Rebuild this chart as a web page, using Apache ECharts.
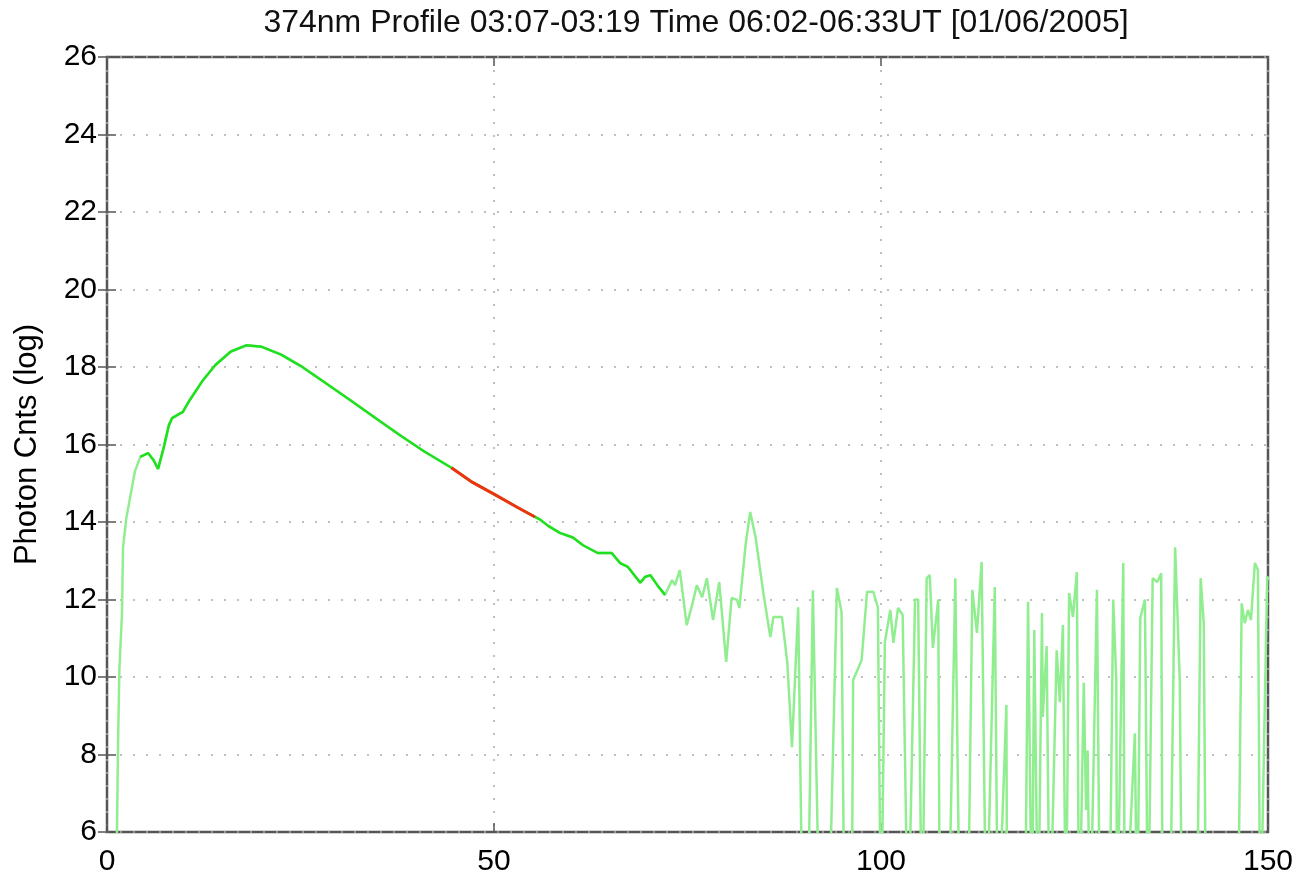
<!DOCTYPE html>
<html>
<head>
<meta charset="utf-8">
<title>374nm Profile</title>
<script src="https://cdn.jsdelivr.net/npm/echarts@6/dist/echarts.min.js"></script>
<style>
  html, body { margin: 0; padding: 0; background: #fff; }
  #chart { width: 1299px; height: 881px; }
</style>
</head>
<body>
<div id="chart"></div>
<script>
// profile samples (x = altitude bin, y = log photon counts)
// values of 3 mean the trace drops below the visible range
var profileX = [
  0.9, 1.29, 1.42, 1.6, 1.94, 2.07, 2.5, 3.0, 3.6, 4.3, 5.3, 6.0, 6.6, 7.3, 8.0, 8.4, 9.8, 10.7, 12.4,
  14, 16, 18, 20, 22.5, 25, 28, 31.4, 35, 38, 41, 44.5, 47, 50, 53, 55.3, 55.9, 57, 58.5, 60.2, 61.5,
  63.4, 65.2, 66.3, 67.3, 68.9, 69.5, 70.2, 71.1, 72.1, 73.0, 73.4, 74.0, 74.9, 75.6, 76.2, 76.9,
  77.5, 78.3, 79.1, 80.0, 80.7, 81.4, 81.7, 82.5, 83.1, 83.8, 84.8, 85.7, 86.1, 87.2, 87.9, 88.5,
  89.3, 89.9, 90.5, 91.2, 92.1, 93.2, 94.3, 94.9, 95.3, 96.2, 96.4, 97.0, 97.5, 98.2, 99.0, 99.6,
  100.0, 100.5, 101.2, 101.6, 102.2, 102.8, 103.5, 104.4, 104.8, 105.3, 105.9, 106.3, 106.7, 107.4,
  107.6, 108.7, 109.6, 110.2, 111.2, 111.8, 112.4, 113.0, 113.6, 114.7, 115.1, 116.2, 116.3, 118.6,
  119.0, 119.5, 119.8, 120.3, 120.8, 120.9, 121.4, 121.8, 122.7, 123.1, 123.5, 123.9, 124.3, 124.8,
  125.3, 125.6, 126.2, 126.5, 126.7, 127.0, 127.9, 128.3, 129.5, 130.0, 130.4, 130.5, 131.3, 131.5,
  132.8, 133.1, 133.5, 134.1, 134.5, 135.1, 135.7, 136.2, 136.4, 137.3, 138.0, 138.6, 138.9, 140.8,
  141.3, 141.7, 142.0, 146.1, 146.6, 147.0, 147.4, 147.8, 148.3, 148.7, 149.0, 149.9, 150
];
var profileY = [
  3, 6.05, 8.2, 10.2, 11.65, 13.35, 14.1, 14.65, 15.3, 15.68, 15.78, 15.6, 15.37, 15.9, 16.5, 16.68, 16.84, 17.15, 17.66,
  18.05, 18.4, 18.56, 18.52, 18.32, 18.03, 17.62, 17.15, 16.64, 16.22, 15.82, 15.4, 15.05, 14.72, 14.38, 14.13, 14.07, 13.9, 13.72, 13.6, 13.4,
  13.2, 13.2, 12.94, 12.84, 12.43, 12.58, 12.63, 12.37, 12.12, 12.5, 12.37, 12.76, 11.34, 11.86, 12.37, 12.06,
  12.55, 11.47, 12.45, 10.39, 12.04, 11.99, 11.78, 13.4, 14.26, 13.6, 12.17, 11.03, 11.55, 11.55, 10.36, 8.19,
  11.8, 3, 3, 12.24, 3, 3, 12.3, 11.68, 3, 3, 9.92, 10.2, 10.44, 12.2, 12.2, 11.8,
  3, 10.9, 11.73, 10.88, 11.78, 11.6, 3, 12.0, 12.0, 3, 12.55, 12.63, 10.75, 12.0,
  3, 3, 12.55, 3, 3, 12.25, 11.14, 12.97, 3, 12.32, 3, 9.28, 3, 3,
  11.94, 3, 11.21, 3, 11.65, 8.97, 10.8, 3, 10.69, 9.35, 11.34, 3, 12.17, 11.55,
  12.71, 3, 9.85, 6.57, 8.1, 3, 12.25, 3, 3, 12.0, 9.92, 3, 12.94, 3,
  8.55, 3, 11.52, 12.0, 3, 12.55, 12.45, 12.68, 3, 3, 13.35, 9.92, 3, 3,
  12.55, 11.39, 3, 3, 11.9, 11.39, 11.73, 11.47, 12.94, 12.76, 3, 12.6, 12.5
];
var denseRange = [4, 72.2];     // part of the trace drawn with many samples
var fitRange = [44.5, 55.3];    // fitted segment shown in red
var xTicks = { min: 0, max: 150, interval: 50 };
var yTicks = { min: 6, max: 26, interval: 2 };
var titleText = '374nm Profile 03:07-03:19 Time 06:02-06:33UT [01/06/2005]';
var yName = 'Photon Cnts (log)';

var allPoints = profileX.map(function (x, i) { return [x, profileY[i]] });
function between(range) {
  return allPoints.filter(function (p) { return p[0] >= range[0] && p[0] <= range[1] });
}

var chart = echarts.init(document.getElementById('chart'));
var font = 'Liberation Sans, Arial, sans-serif';
var gridLine = { show: true, lineStyle: { color: '#aaa', width: 1.5, type: [2, 11] } };

chart.setOption({
  animation: false,
  backgroundColor: '#fff',
  title: {
    text: titleText,
    left: 691, textAlign: 'center', top: 2,
    textStyle: { fontFamily: font, fontSize: 32, fontWeight: 'normal', color: '#111' }
  },
  grid: {
    left: 107, right: 31, top: 57, bottom: 49,
    show: true, borderColor: '#555', borderWidth: 2.5, backgroundColor: '#fff'
  },
  xAxis: [
    {
      type: 'value', min: xTicks.min, max: xTicks.max, interval: xTicks.interval,
      axisLine: { show: false },
      axisTick: { inside: true, length: 9, lineStyle: { color: '#555', width: 1.5 } },
      axisLabel: { margin: 15, fontFamily: font, fontSize: 30, color: '#000' },
      splitLine: gridLine
    },
    {
      type: 'value', position: 'top', min: xTicks.min, max: xTicks.max, interval: xTicks.interval,
      axisLine: { show: false },
      axisTick: { inside: true, length: 9, lineStyle: { color: '#555', width: 1.5 } },
      axisLabel: { show: false }, splitLine: { show: false }
    }
  ],
  yAxis: [
    {
      type: 'value', min: yTicks.min, max: yTicks.max, interval: yTicks.interval,
      name: yName, nameLocation: 'middle', nameGap: 64, nameRotate: 90,
      nameTextStyle: { fontFamily: font, fontSize: 31, color: '#000' },
      axisLine: { show: false },
      axisTick: { inside: true, length: 9, lineStyle: { color: '#555', width: 1.5 } },
      axisLabel: { margin: 10, fontFamily: font, fontSize: 30, color: '#000' },
      splitLine: gridLine
    },
    {
      type: 'value', position: 'right', min: yTicks.min, max: yTicks.max, interval: yTicks.interval,
      axisLine: { show: false },
      axisTick: { inside: true, length: 9, lineStyle: { color: '#555', width: 1.5 } },
      axisLabel: { show: false }, splitLine: { show: false }
    }
  ],
  series: [
    {
      name: 'profile', type: 'line', data: allPoints, showSymbol: false, clip: true,
      lineStyle: { color: '#90ee90', width: 2.5 }, z: 2
    },
    {
      name: 'dense', type: 'line', data: between(denseRange), showSymbol: false, clip: true,
      lineStyle: { color: '#1fe01f', width: 2.5 }, z: 3
    },
    {
      name: 'fit', type: 'line', data: between(fitRange), showSymbol: false, clip: true,
      lineStyle: { color: '#ee3311', width: 3 }, z: 4
    }
  ]
});
</script>
</body>
</html>
